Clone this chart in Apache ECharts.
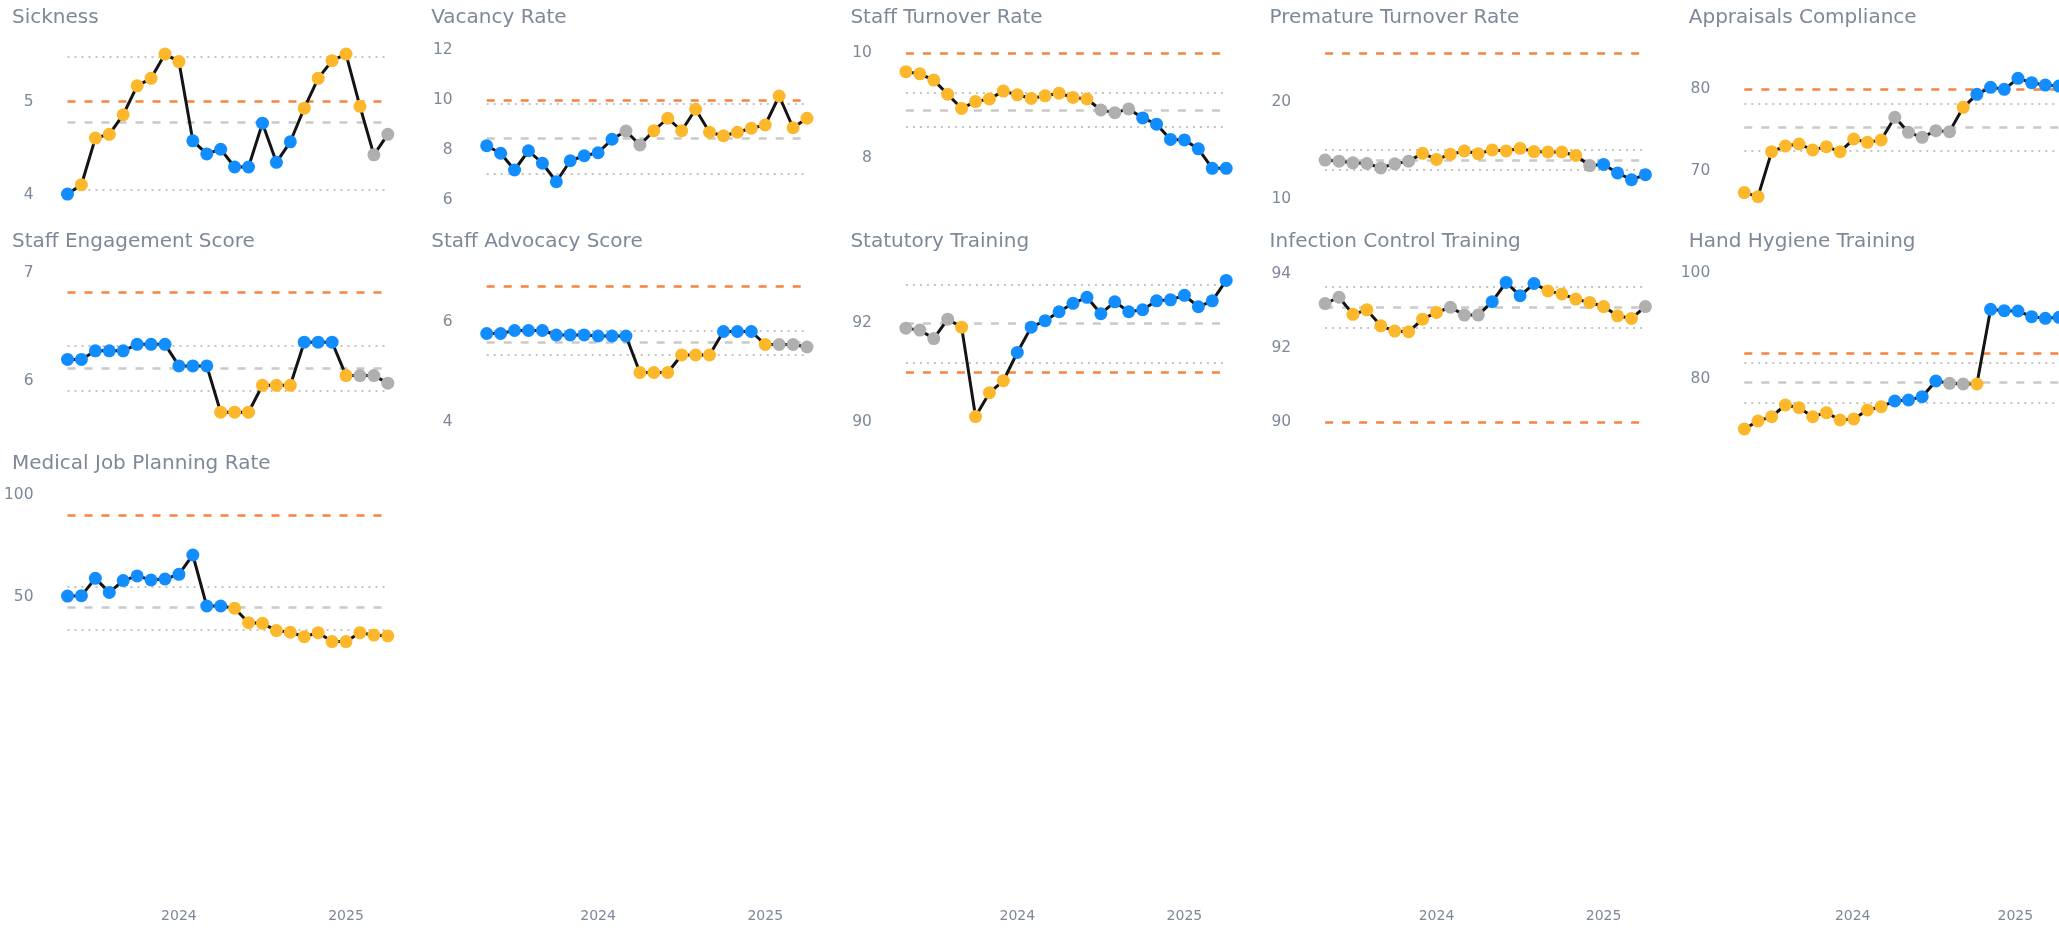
<!DOCTYPE html>
<html>
<head>
<meta charset="utf-8">
<script src="https://cdn.jsdelivr.net/npm/echarts@6/dist/echarts.min.js"></script>
<style>
  html, body { margin: 0; padding: 0; background: #fff; }
  #chart { width: 2059px; height: 932px; }
</style>
</head>
<body>
<div id="chart"></div>
<script>
// Monthly periods, May 2023 – April 2025
const months = ['2023-05','2023-06','2023-07','2023-08','2023-09','2023-10','2023-11','2023-12',
  '2024-01','2024-02','2024-03','2024-04','2024-05','2024-06','2024-07','2024-08','2024-09','2024-10','2024-11','2024-12',
  '2025-01','2025-02','2025-03','2025-04'];

// Point status: b = improvement, o = concern, g = common cause
const sicknessValues = [4.01,4.11,4.61,4.65,4.86,5.17,5.25,5.51,5.43,4.58,4.44,4.49,4.30,4.30,4.77,4.35,4.57,4.93,5.25,5.44,5.51,4.95,4.43,4.65];
const sicknessStatus = 'boooooooobbbbbbbbooooogg';
const sicknessLimits = { target: 5, mean: 4.775, upper: 5.48, lower: 4.06 };
const sicknessTicks = [4, 5];

const vacancyValues = [8.17,7.87,7.20,7.97,7.47,6.73,7.57,7.77,7.89,8.43,8.76,8.20,8.77,9.27,8.77,9.63,8.71,8.57,8.71,8.87,9.00,10.16,8.89,9.27];
const vacancyStatus = 'bbbbbbbbbbggoooooooooooo';
const vacancyLimits = { target: 10, mean: 8.47, upper: 9.86, lower: 7.07 };
const vacancyTicks = [6, 8, 10, 12];

const turnoverValues = [9.65,9.61,9.49,9.22,8.95,9.08,9.13,9.28,9.21,9.14,9.19,9.24,9.16,9.13,8.92,8.87,8.94,8.77,8.65,8.36,8.35,8.18,7.81,7.81];
const turnoverStatus = 'oooooooooooooogggbbbbbbb';
const turnoverLimits = { target: 10, mean: 8.92, upper: 9.24, lower: 8.60 };
const turnoverTicks = [8, 10];

const prematureValues = [14.03,13.92,13.75,13.68,13.23,13.65,13.92,14.72,14.10,14.62,14.97,14.69,15.07,14.97,15.24,14.90,14.86,14.86,14.51,13.47,13.58,12.71,12.01,12.53];
const prematureStatus = 'gggggggoooooooooooogbbbb';
const prematureLimits = { target: 25, mean: 14.03, upper: 15.07, lower: 13.06 };
const prematureTicks = [10, 20];

const appraisalsValues = [67.3,66.8,72.34,73.03,73.28,72.54,72.95,72.34,73.89,73.48,73.77,76.56,74.71,74.10,74.92,74.80,77.79,79.39,80.25,80.00,81.35,80.82,80.53,80.4];
const appraisalsStatus = 'ooooooooooogggggobbbbbbbb'.slice(0, 24);
const appraisalsLimits = { target: 80, mean: 75.33, upper: 78.28, lower: 72.46 };
const appraisalsTicks = [70, 80];

const engagementValues = [6.20,6.20,6.28,6.28,6.28,6.34,6.34,6.34,6.14,6.14,6.14,5.71,5.71,5.71,5.96,5.96,5.96,6.36,6.36,6.36,6.05,6.05,6.05,5.98];
const engagementStatus = 'bbbbbbbbbbboooooobbboggg';
const engagementLimits = { target: 6.82, mean: 6.124, upper: 6.325, lower: 5.907 };
const engagementTicks = [6, 7];

const advocacyValues = [5.77,5.77,5.83,5.83,5.83,5.74,5.74,5.74,5.72,5.72,5.72,4.99,4.99,4.99,5.34,5.34,5.34,5.81,5.81,5.81,5.55,5.55,5.55,5.50];
const advocacyStatus = 'bbbbbbbbbbboooooobbboggg';
const advocacyLimits = { target: 6.72, mean: 5.59, upper: 5.82, lower: 5.35 };
const advocacyTicks = [4, 6];

const statutoryValues = [91.89,91.85,91.68,92.07,91.91,90.11,90.59,90.83,91.40,91.91,92.04,92.22,92.39,92.51,92.18,92.42,92.22,92.26,92.44,92.46,92.55,92.32,92.44,92.85];
const statutoryStatus = 'ggggoooobbbbbbbbbbbbbbbb';
const statutoryLimits = { target: 91, mean: 91.99, upper: 92.77, lower: 91.19 };
const statutoryTicks = [90, 92];

const infectionValues = [93.19,93.36,92.90,93.02,92.59,92.45,92.43,92.77,92.95,93.09,92.88,92.88,93.24,93.76,93.40,93.73,93.53,93.45,93.31,93.22,93.11,92.86,92.79,93.11];
const infectionStatus = 'ggooooooogggbbbbooooooog';
const infectionLimits = { target: 90, mean: 93.09, upper: 93.64, lower: 92.54 };
const infectionTicks = [90, 92, 94];

const handHygieneValues = [70.63,72.14,72.96,75.16,74.65,72.96,73.71,72.33,72.52,74.21,74.84,75.91,76.10,76.73,79.69,79.25,79.12,79.12,93.21,92.96,92.89,91.82,91.51,91.7];
const handHygieneStatus = 'ooooooooooobbbbggobbbbbb';
const handHygieneLimits = { target: 85, mean: 79.37, upper: 83.14, lower: 75.66 };
const handHygieneTicks = [80, 100];

const jobPlanningValues = [50.3,50.5,59.0,52.1,57.9,60.2,58.2,58.7,61.0,70.5,45.4,45.4,44.3,37.2,36.9,33.3,32.5,30.3,32.3,27.9,27.9,32.3,31.1,30.7];
const jobPlanningStatus = 'bbbbbbbbbbbboooooooooooo';
const jobPlanningLimits = { target: 90, mean: 44.6, upper: 54.9, lower: 33.9 };
const jobPlanningTicks = [50, 100];

const panels = [
  { title: 'Sickness', values: sicknessValues, status: sicknessStatus, limits: sicknessLimits, ticks: sicknessTicks, min: 3.946, max: 5.554 },
  { title: 'Vacancy Rate', values: vacancyValues, status: vacancyStatus, limits: vacancyLimits, ticks: vacancyTicks, min: 6, max: 12 },
  { title: 'Staff Turnover Rate', values: turnoverValues, status: turnoverStatus, limits: turnoverLimits, ticks: turnoverTicks, min: 7.206, max: 10.063 },
  { title: 'Premature Turnover Rate', values: prematureValues, status: prematureStatus, limits: prematureLimits, ticks: prematureTicks, min: 9.93, max: 25.34 },
  { title: 'Appraisals Compliance', values: appraisalsValues, status: appraisalsStatus, limits: appraisalsLimits, ticks: appraisalsTicks, min: 66.39, max: 84.84 },
  { title: 'Staff Engagement Score', values: engagementValues, status: engagementStatus, limits: engagementLimits, ticks: engagementTicks, min: 5.619, max: 7.012 },
  { title: 'Staff Advocacy Score', values: advocacyValues, status: advocacyStatus, limits: advocacyLimits, ticks: advocacyTicks, min: 4.0, max: 7.0 },
  { title: 'Statutory Training', values: statutoryValues, status: statutoryStatus, limits: statutoryLimits, ticks: statutoryTicks, min: 90, max: 93.02 },
  { title: 'Infection Control Training', values: infectionValues, status: infectionStatus, limits: infectionLimits, ticks: infectionTicks, min: 90, max: 94.04 },
  { title: 'Hand Hygiene Training', values: handHygieneValues, status: handHygieneStatus, limits: handHygieneLimits, ticks: handHygieneTicks, min: 71.95, max: 100.25 },
  { title: 'Medical Job Planning Rate', values: jobPlanningValues, status: jobPlanningStatus, limits: jobPlanningLimits, ticks: jobPlanningTicks, min: 26.72, max: 100.5 }
];

// Layout of the small multiples
const COLS = 5;
const colPitch = 419.2;
const plotLeft0 = 67.5;
const plotWidth = 320.3;
const plotHeight = 150;
const plotTops = [50, 272, 494];
const titleTops = [8, 232, 454];
const textColor = '#7D8899';
const font = 'DejaVu Sans';

const statusColors = { b: '#118DFF', o: '#FDB72A', g: '#AFAFAF' };

const grid = [], xAxis = [], yAxis = [], series = [], title = [];

panels.forEach((p, i) => {
  const col = i % COLS, row = Math.floor(i / COLS);
  const left = plotLeft0 + colPitch * col;
  grid.push({ left: left, top: plotTops[row], width: plotWidth, height: plotHeight, containLabel: false });
  xAxis.push({ type: 'category', gridIndex: i, data: months, boundaryGap: false, show: false });
  yAxis.push({
    type: 'value', gridIndex: i, min: p.min, max: p.max,
    axisLine: { show: false }, axisTick: { show: false }, splitLine: { show: false },
    axisLabel: { customValues: p.ticks, margin: 34, color: textColor, fontSize: 15.5, fontFamily: font }
  });
  title.push({
    text: p.title, left: 12 + colPitch * col, top: titleTops[row], padding: 0,
    textStyle: { fontFamily: font, fontSize: 20, fontWeight: 'normal', color: textColor }
  });
  const dashed = (color) => ({ color: color, width: 2.5, type: [8, 9] });
  const dotted = { color: '#C4C4C4', width: 2, type: [2, 5] };
  series.push({
    type: 'line', xAxisIndex: i, yAxisIndex: i, clip: false, z: 5,
    data: p.values.map((v, k) => ({ value: v, itemStyle: { color: statusColors[p.status[k]] } })),
    symbol: 'circle', symbolSize: 13, showSymbol: true, showAllSymbol: true,
    lineStyle: { color: '#141414', width: 3 },
    emphasis: { disabled: true },
    markLine: {
      silent: true, symbol: ['none', 'none'], label: { show: false }, animation: false,
      data: [
        { yAxis: p.limits.upper, lineStyle: dotted },
        { yAxis: p.limits.lower, lineStyle: dotted },
        { yAxis: p.limits.mean, lineStyle: dashed('#C9C9C9') },
        { yAxis: p.limits.target, lineStyle: dashed('#F5843E') }
      ]
    }
  });
});

// Shared date axis along the bottom of every column
for (let c = 0; c < COLS; c++) {
  const gi = grid.length;
  grid.push({ left: plotLeft0 + colPitch * c, top: 900, width: plotWidth, height: 1 });
  xAxis.push({
    type: 'category', gridIndex: gi, data: months, boundaryGap: false,
    axisLine: { show: false }, axisTick: { show: false },
    axisLabel: {
      interval: 0, margin: 8, color: textColor, fontSize: 14, fontFamily: font,
      formatter: (v) => v.endsWith('-01') ? v.slice(0, 4) : ''
    }
  });
  yAxis.push({ type: 'value', gridIndex: gi, show: false });
}

const chart = echarts.init(document.getElementById('chart'), null, { renderer: 'canvas' });
chart.setOption({ animation: false, backgroundColor: '#ffffff', title, grid, xAxis, yAxis, series });
</script>
</body>
</html>
